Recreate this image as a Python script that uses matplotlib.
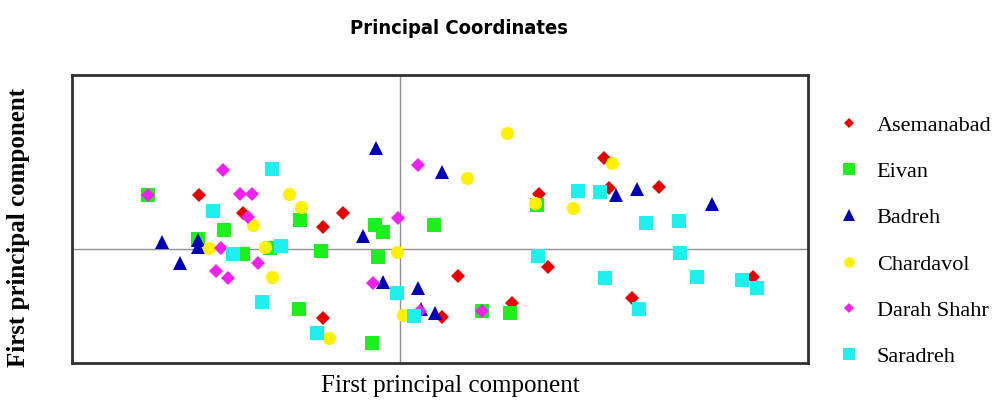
import matplotlib.pyplot as plt
from matplotlib.lines import Line2D

plt.rcParams['font.family'] = ['Liberation Serif', 'DejaVu Serif']

# principal coordinates (axis 1, axis 2)
asem_x = [-2.01, -1.57, -0.57, -0.77, 0.58, 0.42, -0.77, 2.04, 1.39, 2.09, 1.48, 1.12, 2.32, 2.59, 3.53]
asem_y = [0.54, 0.36, 0.36, 0.22, -0.27, -0.68, -0.69, 0.91, 0.55, 0.61, -0.18, -0.54, -0.49, 0.62, -0.28]

eivan_x = [-2.52, -1.76, -2.02, -1.57, -1.00, -0.25, -0.17, 0.34, -1.30, -0.79, -0.22, -1.01, -0.28, 1.37, 0.82, 1.10]
eivan_y = [0.54, 0.19, 0.10, -0.05, 0.29, 0.24, 0.17, 0.24, 0.01, -0.02, -0.08, -0.60, -0.94, 0.44, -0.62, -0.64]

badreh_x = [-2.38, -2.02, -2.02, -2.20, -0.24, 0.42, -0.37, -0.17, 0.18, 0.21, 0.35, 2.16, 2.37, 3.12]
badreh_y = [0.07, 0.09, 0.02, -0.14, 1.01, 0.77, 0.13, -0.33, -0.39, -0.60, -0.64, 0.54, 0.60, 0.45]

chard_x = [-1.47, -1.91, -1.35, -1.11, -0.99, -0.03, -1.28, 0.03, -0.71, 1.07, 0.67, 2.12, 1.35, 1.73]
chard_y = [0.24, 0.01, 0.02, 0.55, 0.42, -0.03, -0.28, -0.66, -0.89, 1.16, 0.71, 0.86, 0.46, 0.41]

darah_x = [-2.52, -1.77, -1.60, -1.48, -1.52, -1.79, -1.42, -1.84, -1.72, 0.18, -0.02, -0.27, 0.20, 0.82]
darah_y = [0.54, 0.79, 0.55, 0.55, 0.32, 0.01, -0.14, -0.22, -0.29, 0.84, 0.31, -0.34, -0.62, -0.62]

sara_x = [-1.87, -1.67, -1.38, -1.28, -1.19, -0.03, 0.14, -0.83, 1.78, 2.00, 2.46, 1.38, 2.05, 2.39, 2.79, 2.80, 2.97, 3.42, 3.57]
sara_y = [0.38, -0.05, -0.53, 0.80, 0.03, -0.44, -0.67, -0.84, 0.58, 0.57, 0.26, -0.07, -0.29, -0.60, 0.28, -0.04, -0.28, -0.31, -0.39]

groups = [
    ("Asemanabad", asem_x, asem_y, "D", 7, "#e60000"),
    ("Eivan", eivan_x, eivan_y, "s", 10, "#1cf01c"),
    ("Badreh", badreh_x, badreh_y, "^", 10, "#0000b4"),
    ("Chardavol", chard_x, chard_y, "o", 9.5, "#fff200"),
    ("Darah Shahr", darah_x, darah_y, "D", 7, "#f020f0"),
    ("Saradreh", sara_x, sara_y, "s", 10, "#1ef0f0"),
]

fig = plt.figure(figsize=(9.99, 4.03), dpi=100)
ax = fig.add_axes([72 / 999, 1 - 363 / 403, 736 / 999, 288 / 403])

ax.axhline(0, color="#909090", lw=1, zorder=1)
ax.axvline(0, color="#909090", lw=1, zorder=1)

handles = []
for name, xs, ys, mk, ms, col in groups:
    ax.plot(xs, ys, linestyle="none", marker=mk, markersize=ms, color=col, markeredgewidth=0, zorder=3)
    handles.append(Line2D([], [], linestyle="none", marker=mk, markersize=ms * 0.8, color=col,
                          markeredgewidth=0, label=name))

ax.set_xlim(-3.28, 4.08)
ax.set_ylim(-1.14, 1.74)
ax.set_xticks([])
ax.set_yticks([])
for s in ax.spines.values():
    s.set_linewidth(2)
    s.set_color("#303030")

fig.legend(handles=handles, loc="upper left", bbox_to_anchor=(820 / 999, 1 - 95 / 403),
           frameon=False, fontsize=16, labelspacing=1.16, handletextpad=0.85, handlelength=0.8)

fig.text(459 / 999, 1 - 28 / 403, "Principal Coordinates", ha="center", va="center",
         fontsize=14.5, fontweight="bold", fontstretch="condensed", family="DejaVu Sans")
fig.text(450 / 999, 1 - 386 / 403, "First principal component", ha="center", va="center", fontsize=18)
fig.text(19 / 999, 1 - 227 / 403, "First principal component", ha="center", va="center",
         rotation=90, fontsize=18, fontweight="bold")

fig.savefig("out.png", dpi=100)
